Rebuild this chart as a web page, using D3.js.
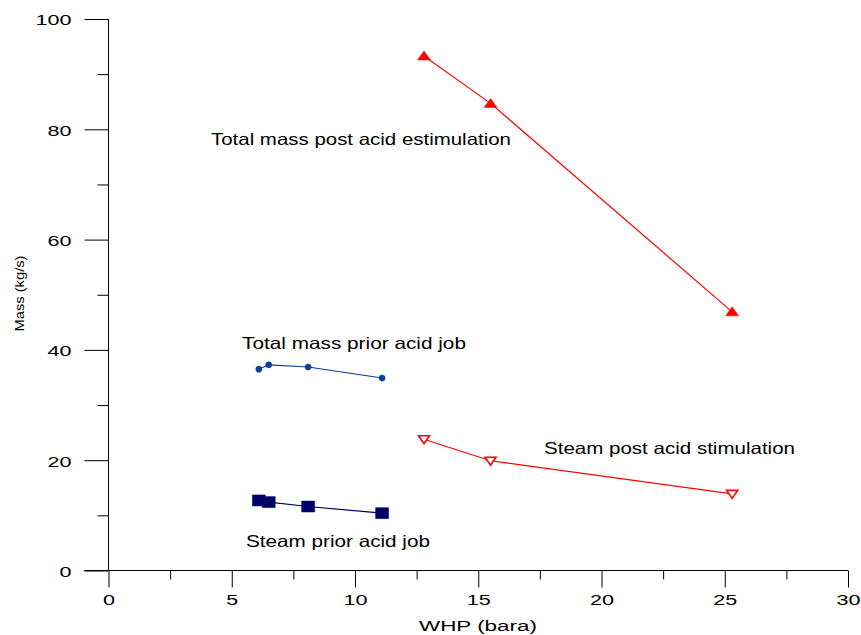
<!DOCTYPE html>
<html>
<head>
<meta charset="utf-8">
<script src="https://cdn.jsdelivr.net/npm/d3@7"></script>
<style>
  body { margin: 0; background: #fff; }
  svg text { font-family: Arial, "Liberation Sans", sans-serif; fill: #000; }
</style>
</head>
<body>
<svg id="chart" width="861" height="635"></svg>
<script>
// Well test data: wellhead pressure (bara) vs mass flow (kg/s)
const totalPostWHP   = [12.8, 15.5, 25.3];
const totalPostMass  = [93.3, 84.7, 46.9];
const steamPostWHP   = [12.8, 15.5, 25.3];
const steamPostMass  = [23.8, 19.9, 13.9];
const totalPriorWHP  = [6.1, 6.5, 8.1, 11.1];
const totalPriorMass = [36.5, 37.3, 36.9, 34.9];
const steamPriorWHP  = [6.1, 6.5, 8.1, 11.1];
const steamPriorMass = [12.7, 12.4, 11.6, 10.4];

const xTicks = [0, 5, 10, 15, 20, 25, 30];
const yTicks = [0, 20, 40, 60, 80, 100];

const svg = d3.select("#chart");
const x = d3.scaleLinear().domain([0, 30]).range([108.5, 848]);
const y = d3.scaleLinear().domain([0, 100]).range([570.5, 19]);

// wide, stretched lettering used throughout the plot
const DIGIT_W = 12;
function stretch(sel, len) {
  sel.attr("lengthAdjust", "spacingAndGlyphs").attr("textLength", len);
}

// Axes: major ticks labelled, minor ticks between
const xAxis = d3.axisBottom(x).tickValues(xTicks).tickSize(17).tickPadding(7).tickFormat(d3.format("d"));
const xMinor = d3.axisBottom(x).tickValues(d3.range(2.5, 30, 5)).tickSize(9).tickFormat("");
const yAxis = d3.axisLeft(y).tickValues(yTicks).tickSize(24).tickPadding(13).tickFormat(d3.format("d"));
const yMinor = d3.axisLeft(y).tickValues(d3.range(10, 100, 20)).tickSize(11).tickFormat("");

function styleAxis(g) {
  g.select(".domain").remove();
  g.selectAll("line").attr("stroke", "#000").attr("stroke-width", 1);
  g.selectAll("text").attr("font-size", 14.5).attr("fill", "#000")
    .each(function (d) { stretch(d3.select(this), String(d).length * DIGIT_W); });
}

svg.append("g").attr("transform", "translate(0,570.5)").call(xAxis).call(styleAxis);
svg.append("g").attr("transform", "translate(0,570.5)").call(xMinor).call(styleAxis);
svg.append("g").attr("transform", "translate(108.5,0)").call(yAxis).call(styleAxis)
  .selectAll("text").attr("dy", "0.4em");
svg.append("g").attr("transform", "translate(108.5,0)").call(yMinor).call(styleAxis);

// axis lines
svg.append("line").attr("x1", 84).attr("x2", x(30)).attr("y1", 570.5).attr("y2", 570.5).attr("stroke", "#000");
svg.append("line").attr("x1", 108.5).attr("x2", 108.5).attr("y1", y(100)).attr("y2", 570.5).attr("stroke", "#000");

// axis titles
svg.append("text").attr("x", 478).attr("y", 631).attr("text-anchor", "middle")
  .attr("font-size", 15.5).text("WHP (bara)").call(stretch, 118);
svg.append("text").attr("transform", "translate(23.5,293.5) rotate(-90)").attr("text-anchor", "middle")
  .attr("font-size", 12.5).text("Mass (kg/s)").call(stretch, 76);

const line = d3.line().x(d => x(d[0])).y(d => y(d[1]));
const zip = (a, b) => a.map((v, i) => [v, b[i]]);

function series(pts, color, symbol, filled) {
  svg.append("path").datum(pts).attr("d", line)
    .attr("fill", "none").attr("stroke", color).attr("stroke-width", 1.2);
  svg.append("g").selectAll("path").data(pts).join("path")
    .attr("transform", d => `translate(${x(d[0])},${y(d[1])})`)
    .attr("d", symbol)
    .attr("fill", filled ? color : "#fff")
    .attr("stroke", color)
    .attr("stroke-width", filled ? 0.5 : 1.6);
}

const triUp = "M0,-5L6.5,4L-6.5,4Z";
const triDown = "M-5.5,-3.5L5.5,-3.5L0,4.5Z";
const square = "M-6.5,-5.5H6.5V5.5H-6.5Z";
const circle = d3.symbol().type(d3.symbolCircle).size(30)();

series(zip(totalPostWHP, totalPostMass), "#ff0000", triUp, true);
series(zip(steamPostWHP, steamPostMass), "#ff0000", triDown, false);
series(zip(totalPriorWHP, totalPriorMass), "#0c3c9c", circle, true);
series(zip(steamPriorWHP, steamPriorMass), "#000066", square, true);

// series labels
const labels = [
  { text: "Total mass post acid estimulation", x: 211, y: 145, w: 300 },
  { text: "Total mass prior acid job", x: 242, y: 349, w: 224 },
  { text: "Steam post acid stimulation", x: 544, y: 454, w: 251 },
  { text: "Steam prior acid job", x: 246, y: 547, w: 184 }
];
svg.append("g").selectAll("text").data(labels).join("text")
  .attr("x", d => d.x).attr("y", d => d.y).attr("font-size", 16.5)
  .attr("lengthAdjust", "spacingAndGlyphs").attr("textLength", d => d.w)
  .text(d => d.text);
</script>
</body>
</html>
